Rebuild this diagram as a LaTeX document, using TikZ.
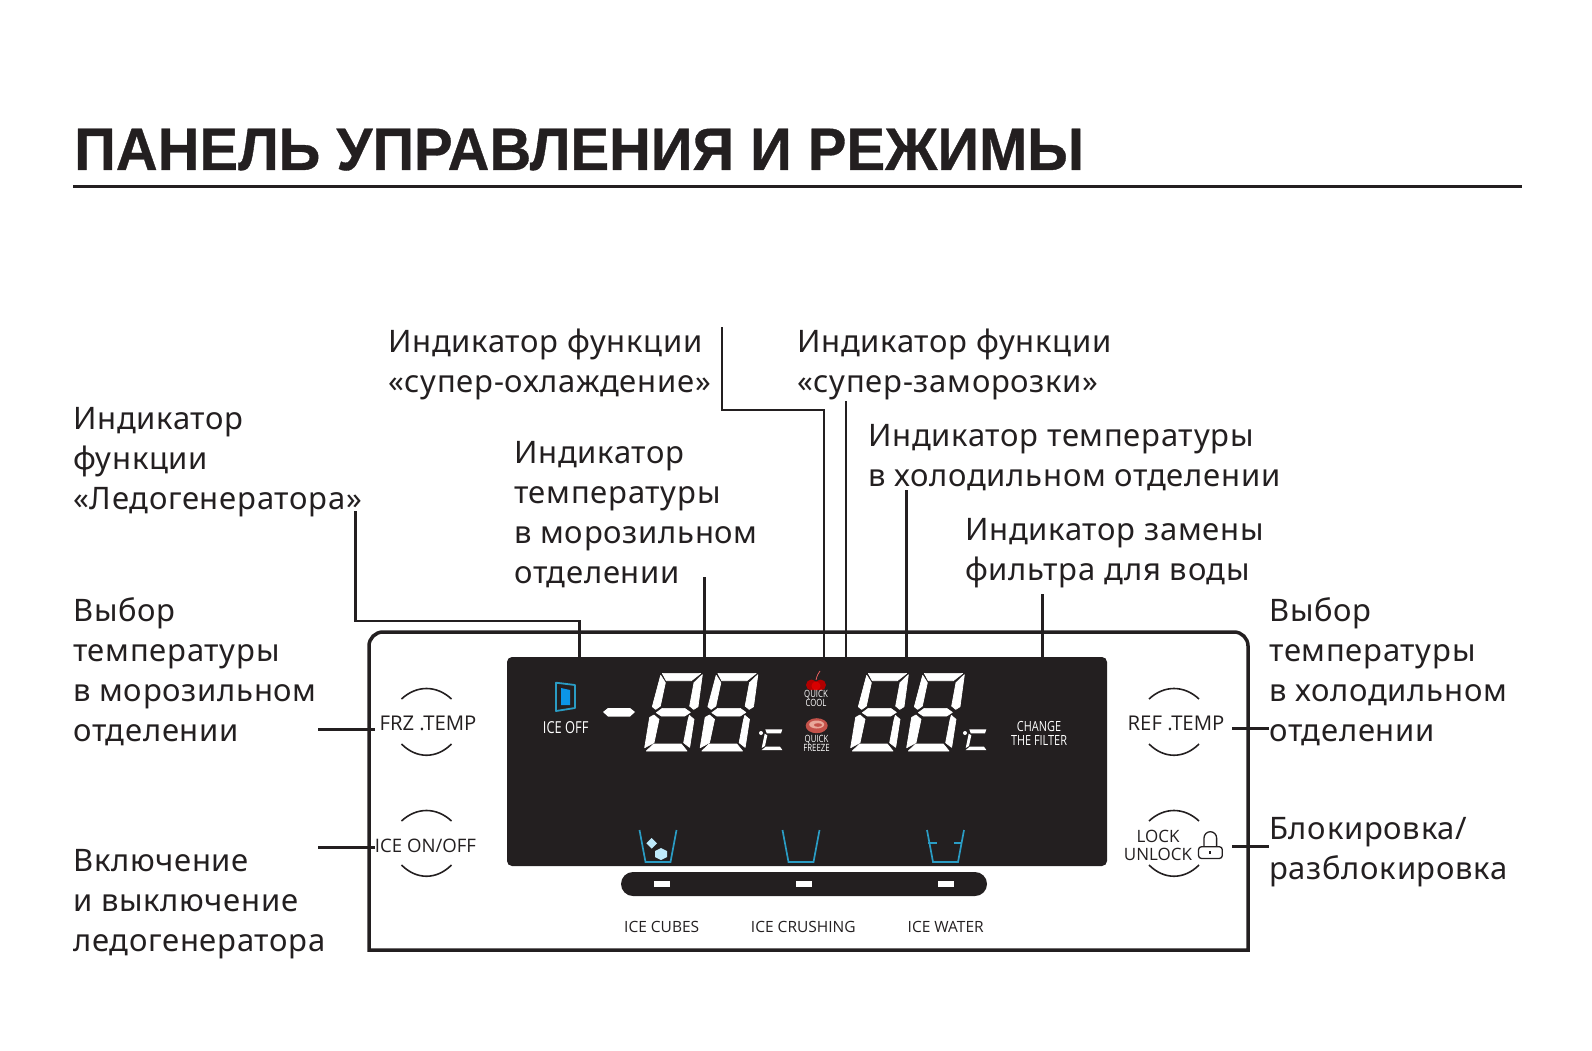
\documentclass[tikz,border=0pt]{standalone}
\usepackage{fontspec}
\setmainfont[LetterSpace=2.3]{Noto Sans}
\newfontfamily\titlefont[FakeStretch=.965,BoldFeatures={FakeBold=.6,FakeStretch=.965}]{Liberation Sans}
\newfontfamily\panelfont{Open Sans}
\newfontfamily\narrowfont[FakeStretch=.78]{Open Sans}
\definecolor{ink}{HTML}{231F20}
\definecolor{cupblue}{HTML}{2A9CC4}
\definecolor{iceblue}{HTML}{0B96E8}
\definecolor{meatred}{HTML}{C4524A}
\definecolor{meatpale}{HTML}{E9A89A}

\tikzset{
  segment/.style={fill=white,draw=white,line width=.7pt,line join=round,scale=1/3},
  digit/.pic={
    \path[segment] (58,2) -- (173,2) -- (145,24) -- (70,24) -- cycle;
    \path[segment] (53,8) -- (67,30) -- (52,100) -- (38,110) -- (28,102) -- cycle;
    \path[segment] (178,6) -- (165,102) -- (152,110) -- (140,100) -- (153,30) -- cycle;
    \path[segment] (40,120) -- (58,107) -- (125,107) -- (142,119) -- (125,130) -- (55,130) -- cycle;
    \path[segment] (20,134) -- (33,127) -- (48,140) -- (33,210) -- (5,225) -- cycle;
    \path[segment] (139,128) -- (153,140) -- (140,224) -- (122,210) -- (135,142) -- cycle;
    \path[segment] (32,214) -- (115,214) -- (132,235) -- (10,235) -- cycle;
  },
  degc/.pic={
    \fill[white] (0,0) circle (2);
    \fill[white] (4.3,-3.7) -- (21.3,-3.7) -- (20,.3) -- (5.7,.3) -- cycle;
    \fill[white] (3.7,.7) -- (6.3,2.3) -- (4,13) -- (.7,15) -- cycle;
    \fill[white] (4.7,13.7) -- (19,13.7) -- (21.3,17) -- (.7,17) -- cycle;
  },
  cup/.pic={
    \draw[cup line] (-18.5,0) -- (-12.5,32) -- (12.5,32) -- (18.5,0);
  }
}

\begin{document}
\begin{tikzpicture}[x=1pt,y=-1pt,
  label node/.style={anchor=north west,inner sep=0pt,align=left,text=ink,font=\fontsize{31}{40}\selectfont},
  panel text/.style={inner sep=0pt,align=center,text=ink,font=\panelfont\fontsize{20.3}{17.5}\selectfont},
  small text/.style={inner sep=0pt,align=center,text=ink,font=\panelfont\fontsize{15.5}{18}\selectfont},
  tiny text/.style={inner sep=0pt,align=center,text=white,font=\narrowfont\fontsize{10}{7.5}\selectfont},
  thin lead/.style={draw=ink,line width=2.2pt},
  thick lead/.style={draw=ink,line width=3pt},
  arc line/.style={draw=ink,line width=1.6pt},
  cup line/.style={draw=cupblue,line width=1.7pt}]

  \useasboundingbox (0,0) rectangle (1592,1051);

  \node[anchor=base west,inner sep=0pt,text=ink,font=\titlefont\bfseries\fontsize{60}{60}\selectfont] (title) at (74,170) {ПАНЕЛЬ УПРАВЛЕНИЯ И РЕЖИМЫ};
  \draw[ink,line width=3pt] (73,187) -- (1522,187);

  % labels
  \node[label node] (cool) at (388,324) {\strut Индикатор функции\\«супер-охлаждение»};
  \node[label node] (freeze) at (797,324) {\strut Индикатор функции\\«супер-заморозки»};
  \node[label node] (icemaker) at (73,401) {\strut Индикатор\\функции\\«Ледогенератора»};
  \node[label node] (frztemp) at (514,435) {\strut Индикатор\\температуры\\в морозильном\\отделении};
  \node[label node] (reftemp) at (868,418) {\strut Индикатор температуры\\в холодильном отделении};
  \node[label node] (filter) at (965,512) {\strut Индикатор замены\\фильтра для воды};
  \node[label node] (frzsel) at (73,593) {\strut Выбор\\температуры\\в морозильном\\отделении};
  \node[label node] (refsel) at (1269,593) {\strut Выбор\\температуры\\в холодильном\\отделении};
  \node[label node] (iceonoff) at (73,843) {\strut Включение\\и выключение\\ледогенератора};
  \node[label node] (lockl) at (1269,811.5) {\strut Блокировка/\\разблокировка};

  % panel
  \draw[ink,line width=3.5pt] (369,950) -- (369,646) arc[start angle=180,end angle=270,radius=14] -- (1234,632) arc[start angle=270,end angle=360,radius=14] -- (1248,950) -- cycle;
  \node[fill=ink,rounded corners=5pt,minimum width=600pt,minimum height=209pt,inner sep=0pt] (lcd) at (807,761.5) {};
  \node[fill=ink,rounded corners=12pt,minimum width=366pt,minimum height=24pt,inner sep=0pt] (pill) at (804,884) {};
  \foreach \x in {662,804,946}
    \fill[white] (\x-8,881) rectangle (\x+8,887);

  % display
  \pic at (643,672.7) {digit};
  \pic at (698.5,672.7) {digit};
  \pic at (849,672.7) {digit};
  \pic at (905,672.7) {digit};
  \pic at (761,733) {degc};
  \pic at (965,733) {degc};
  \fill[white] (603,712) -- (608,708) -- (630,708) -- (635,712) -- (630,716.5) -- (608,716.5) -- cycle;

  \draw[cupblue,line width=1.8pt,line join=round] (556,682.7) -- (575,685) -- (575,708) -- (556,711) -- cycle;
  \fill[iceblue] (561,688) -- (570,690) -- (570,705) -- (561,705) -- cycle;
  \node[inner sep=0pt,text=white,font=\narrowfont\fontsize{16.5}{16.5}\selectfont] (iceoff) at (565.7,727.7) {ICE OFF};
  \node[inner sep=0pt,align=center,text=white,font=\narrowfont\fontsize{14}{14}\selectfont] (change) at (1039,733) {CHANGE\\THE FILTER};

  \draw[red!60!white,line width=.7pt] (816,680) .. controls (817,676) and (818,673) .. (820,671);
  \fill[red!70!black] (811.5,685) circle (5.5);
  \fill[red!70!black] (820.5,685) circle (5.5);
  \fill[red!85!black] (816,686) circle (4.5);
  \node[tiny text] (qcool) at (816,698.5) {QUICK\\[-1.5pt]COOL};
  \fill[meatred] (816.7,725.7) ellipse (11 and 7.5);
  \fill[meatpale] (816.7,724.5) ellipse (7.5 and 4);
  \fill[meatred] (818,725) ellipse (4 and 1.8);
  \node[tiny text] (qfreeze) at (816.5,743.5) {QUICK\\[-1.5pt]FREEZE};

  % cups
  \pic at (658,830) {cup};
  \pic at (801,830) {cup};
  \pic at (945.5,830) {cup};
  \fill[cyan!25!white] (651.7,838) -- (657,843.3) -- (651.7,848.6) -- (646.4,843.3) -- cycle;
  \fill[cyan!25!white] (661,848) -- (667,851) -- (667,857) -- (661,860) -- (655,857) -- (655,851) -- cycle;
  \draw[cup line] (928,843) -- (936.7,843) (954,843) -- (962.3,843);

  \node[small text] (cubes) at (661.7,926.7) {ICE CUBES};
  \node[small text] (crushing) at (803.3,926.7) {ICE CRUSHING};
  \node[small text] (water) at (945.7,926.7) {ICE WATER};

  % buttons
  \node[panel text] (frzbtn) at (428,723.3) {FRZ .TEMP};
  \node[panel text,font=\panelfont\fontsize{18.6}{17.5}\selectfont] (icebtn) at (425.5,846) {ICE ON/OFF};
  \node[panel text] (refbtn) at (1176,723.3) {REF .TEMP};
  \node[panel text,font=\panelfont\fontsize{17}{17.5}\selectfont] (lockbtn) at (1158,845.5) {LOCK\\UNLOCK};
  \foreach \x/\y in {426.5/688,426.5/810,1174/688,1174/810}
    \draw[arc line] (\x-25,\y+11) .. controls (\x-10,\y-3) and (\x+10,\y-3) .. (\x+25,\y+11);
  \foreach \x/\y in {426.5/756,426.5/877,1174/756,1174/877}
    \draw[arc line] (\x-25,\y-12) .. controls (\x-10,\y+3) and (\x+10,\y+3) .. (\x+25,\y-12);

  % lock
  \draw[ink,line width=1.3pt,rounded corners=3pt] (1198.5,846.7) rectangle (1222.3,858.5);
  \draw[ink,line width=1.3pt] (1204,846.7) -- (1204,838) arc[start angle=180,end angle=360,radius=6.3] -- (1216.6,846.7);
  \draw[ink,line width=1.3pt] (1210,851) -- (1210,854);

  % leads
  \coordinate (a0) at (355.5,511);
  \coordinate (a1) at (579.5,621);
  \coordinate (b0) at (704.3,577);
  \coordinate (c0) at (722,327);
  \coordinate (c1) at (823.7,410);
  \coordinate (d0) at (845.7,401);
  \coordinate (e0) at (906.7,490);
  \coordinate (f0) at (1042.3,594);
  \coordinate (g0) at (318,729);
  \coordinate (g1) at (375,729);
  \coordinate (h0) at (318,847);
  \coordinate (h1) at (375,847);
  \coordinate (i0) at (1232,728);
  \coordinate (i1) at (1269,728);
  \coordinate (j0) at (1232,846);
  \coordinate (j1) at (1269,846);

  \path[thin lead]
    (a0) |- (a1) -- (a1 |- lcd.north)
    (c0) |- (c1) -- (c1 |- lcd.north)
    (d0) -- (d0 |- lcd.north);
  \path[thick lead]
    (b0) -- (b0 |- lcd.north)
    (e0) -- (e0 |- lcd.north)
    (f0) -- (f0 |- lcd.north)
    (g0) -- (g1)
    (h0) -- (h1)
    (i0) -- (i1)
    (j0) -- (j1);
\end{tikzpicture}
\end{document}
